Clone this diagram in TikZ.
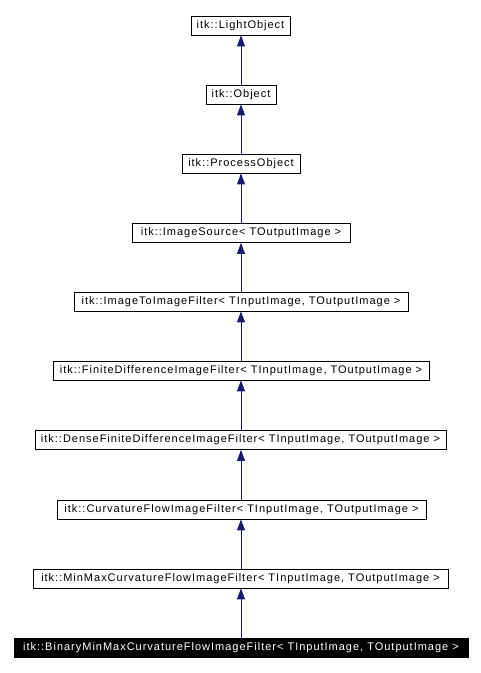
\documentclass[tikz,border=0pt]{standalone}
\usepackage{fontspec}
\setmainfont{Liberation Sans}[LetterSpace=9.0]
\usetikzlibrary{arrows.meta}
\definecolor{edgeblue}{RGB}{25,25,112}
\begin{document}
\begin{tikzpicture}[x=1pt,y=-1pt,
  cls/.style={draw=black,line width=0.8pt,fill=white,inner sep=0pt,minimum height=19pt,font=\fontsize{11}{12}\selectfont,anchor=center},
  cur/.style={cls,fill=black,text=white},
  inh/.style={draw=edgeblue,line width=0.9pt,-{Triangle[length=11pt,width=8pt]}}]
\useasboundingbox (0,0) rectangle (481,673);
\fill[white] (0,0) rectangle (481,673);
\node[cls,minimum width=99pt] (n1) at (240.5,25.5) {itk::LightObject};
\node[cls,minimum width=70pt] (n2) at (241,94.5) {itk::Object};
\node[cls,minimum width=118pt] (n3) at (241,163.5) {itk::ProcessObject};
\node[cls,minimum width=218pt] (n4) at (241,233) {itk::ImageSource< TOutputImage >};
\node[cls,minimum width=334pt] (n5) at (241,301.5) {itk::ImageToImageFilter< TInputImage, TOutputImage >};
\node[cls,minimum width=376pt] (n6) at (241,370.5) {itk::FiniteDifferenceImageFilter< TInputImage, TOutputImage >};
\node[cls,minimum width=411pt] (n7) at (240.5,440) {itk::DenseFiniteDifferenceImageFilter< TInputImage, TOutputImage >};
\node[cls,minimum width=369pt] (n8) at (241.5,509.5) {itk::CurvatureFlowImageFilter< TInputImage, TOutputImage >};
\node[cls,minimum width=415pt] (n9) at (240.5,578.5) {itk::MinMaxCurvatureFlowImageFilter< TInputImage, TOutputImage >};
\node[cur,minimum width=454pt] (n10) at (241,647.5) {itk::BinaryMinMaxCurvatureFlowImageFilter< TInputImage, TOutputImage >};
\foreach \c/\p in {n2/n1,n3/n2,n4/n3,n5/n4,n6/n5,n7/n6,n8/n7,n9/n8,n10/n9}
  \draw[inh] (\c.north -| 241,0) -- (\p.south -| 241,0);
\end{tikzpicture}
\end{document}
